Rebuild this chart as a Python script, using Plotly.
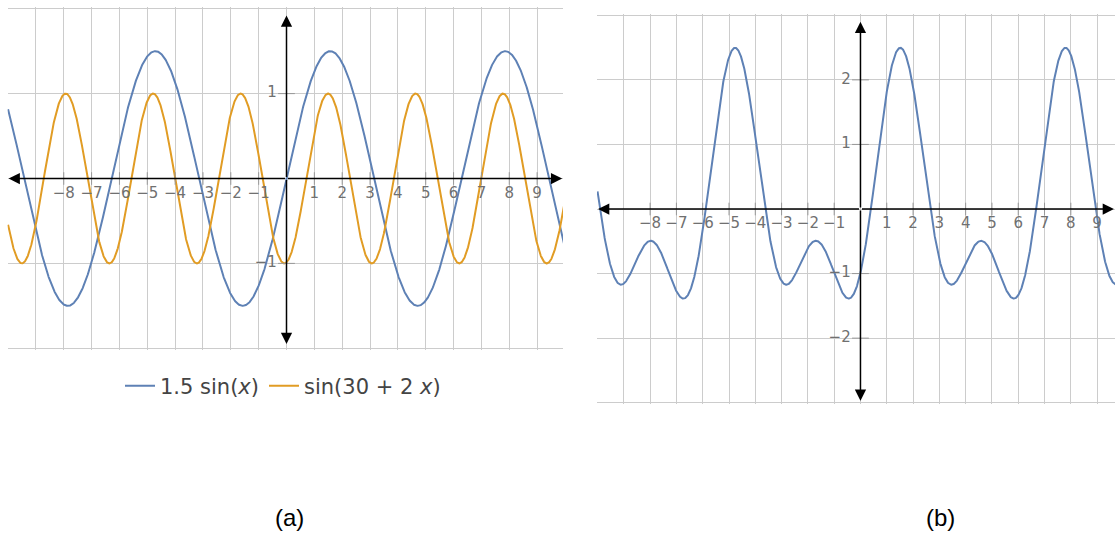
import numpy as np
import plotly.graph_objects as go

# ---- data -------------------------------------------------------------
x_vals = np.linspace(-10.0, 10.0, 2001)
amp_a = 1.5            # 1.5 sin(x)
phase_b = 30.0         # sin(30 + 2 x)
freq_b = 2.0
y_blue = amp_a * np.sin(x_vals)
y_orange = np.sin(phase_b + freq_b * x_vals)
y_sum = y_blue + y_orange

x_ticks = [-8, -7, -6, -5, -4, -3, -2, -1, 1, 2, 3, 4, 5, 6, 7, 8, 9]
y_ticks_a = [-1, 1]
y_ticks_b = [-2, -1, 1, 2]

series_names = ["1.5 sin(<i>x</i>)", "sin(30 + 2 <i>x</i>)"]
panel_labels = ["(a)", "(b)"]

BLUE = "#5E81B5"
ORANGE = "#E19C24"
GRID = "#cccccc"
TICK_FONT = dict(family="DejaVu Sans", size=15, color="#707070")

W, H = 1115, 538


def fmt(t):
    return ("\u2212%d" % -t) if t < 0 else str(t)


fig = go.Figure()

# ---- panel (a) curves ---------------------------------------------------
fig.add_trace(go.Scatter(x=x_vals, y=y_blue, mode="lines", name=series_names[0],
                         line=dict(color=BLUE, width=2), xaxis="x", yaxis="y"))
fig.add_trace(go.Scatter(x=x_vals, y=y_orange, mode="lines", name=series_names[1],
                         line=dict(color=ORANGE, width=2), xaxis="x", yaxis="y"))

# ---- panel (b) curve ----------------------------------------------------
fig.add_trace(go.Scatter(x=x_vals, y=y_sum, mode="lines", showlegend=False,
                         line=dict(color=BLUE, width=2), xaxis="x2", yaxis="y2"))


def add_axis_ticks(xa, ya, yticks):
    # small tick marks on the axes through the origin
    fig.add_trace(go.Scatter(x=x_ticks, y=[0] * len(x_ticks), mode="markers",
                             marker=dict(symbol="line-ns", size=9,
                                         line=dict(color="#999999", width=1)),
                             showlegend=False, hoverinfo="skip", xaxis=xa, yaxis=ya))
    fig.add_trace(go.Scatter(x=[0] * len(yticks), y=yticks, mode="markers",
                             marker=dict(symbol="line-ew", size=12,
                                         line=dict(color="#999999", width=1)),
                             showlegend=False, hoverinfo="skip", xaxis=xa, yaxis=ya))
    # tick labels next to the axes (an invisible marker sets the offset)
    fig.add_trace(go.Scatter(x=x_ticks, y=[0] * len(x_ticks), mode="markers+text",
                             marker=dict(size=11, opacity=0),
                             text=[fmt(t) for t in x_ticks], textposition="bottom center",
                             textfont=TICK_FONT, showlegend=False, hoverinfo="skip",
                             xaxis=xa, yaxis=ya))
    fig.add_trace(go.Scatter(x=[0] * len(yticks), y=yticks, mode="markers+text",
                             marker=dict(size=14, opacity=0),
                             text=[fmt(t) for t in yticks], textposition="middle left",
                             textfont=TICK_FONT, showlegend=False, hoverinfo="skip",
                             xaxis=xa, yaxis=ya))


add_axis_ticks("x", "y", y_ticks_a)
add_axis_ticks("x2", "y2", y_ticks_b)


def axis_arrows(xa, ya, xlim, ylim):
    anns = []
    for (hx, hy) in [(xlim[1], 0), (xlim[0], 0), (0, ylim[1]), (0, ylim[0])]:
        anns.append(dict(x=hx, y=hy, ax=0, ay=0, xref=xa, yref=ya,
                         axref=xa, ayref=ya, text="", showarrow=True,
                         arrowhead=2, arrowsize=1.5, arrowwidth=1.5,
                         arrowcolor="black"))
    return anns


xr_a = [-10.02, 9.93]
yr_a = [-2.02, 2.02]
xr_b = [-10.02, 9.68]
yr_b = [-3.02, 3.02]

annotations = []
annotations += axis_arrows("x", "y", [-9.98, 9.9], [-1.95, 1.92])
annotations += axis_arrows("x2", "y2", [-9.98, 9.64], [-2.97, 2.9])

for label, cx in zip(panel_labels, [289, 940]):
    annotations.append(dict(x=cx / W, y=1 - 517 / H, xref="paper", yref="paper",
                            text=label, showarrow=False,
                            xanchor="center", yanchor="middle",
                            font=dict(family="Liberation Sans, Arial", size=24,
                                      color="black")))

grid_axis = dict(showgrid=True, gridcolor=GRID, gridwidth=1, dtick=1, tick0=0,
                 showticklabels=False, zeroline=False, showline=False, ticks="",
                 fixedrange=True)

fig.update_layout(
    width=W, height=H,
    margin=dict(l=0, r=0, t=0, b=0),
    paper_bgcolor="white", plot_bgcolor="white",
    xaxis=dict(grid_axis, range=xr_a, domain=[7.5 / W, 563 / W], anchor="y"),
    yaxis=dict(grid_axis, range=yr_a, domain=[1 - 350 / H, 1 - 7 / H], anchor="x"),
    xaxis2=dict(grid_axis, range=xr_b, domain=[597 / W, 1.0], anchor="y2"),
    yaxis2=dict(grid_axis, range=yr_b, domain=[1 - 404 / H, 1 - 14 / H], anchor="x2"),
    annotations=annotations,
    showlegend=True,
    legend=dict(orientation="h", x=283 / W, xanchor="center",
                y=1 - 386 / H, yanchor="middle", itemwidth=30,
                font=dict(family="DejaVu Sans", size=21, color="#444444"),
                bgcolor="rgba(0,0,0,0)"),
)

fig.write_html("out.html")
